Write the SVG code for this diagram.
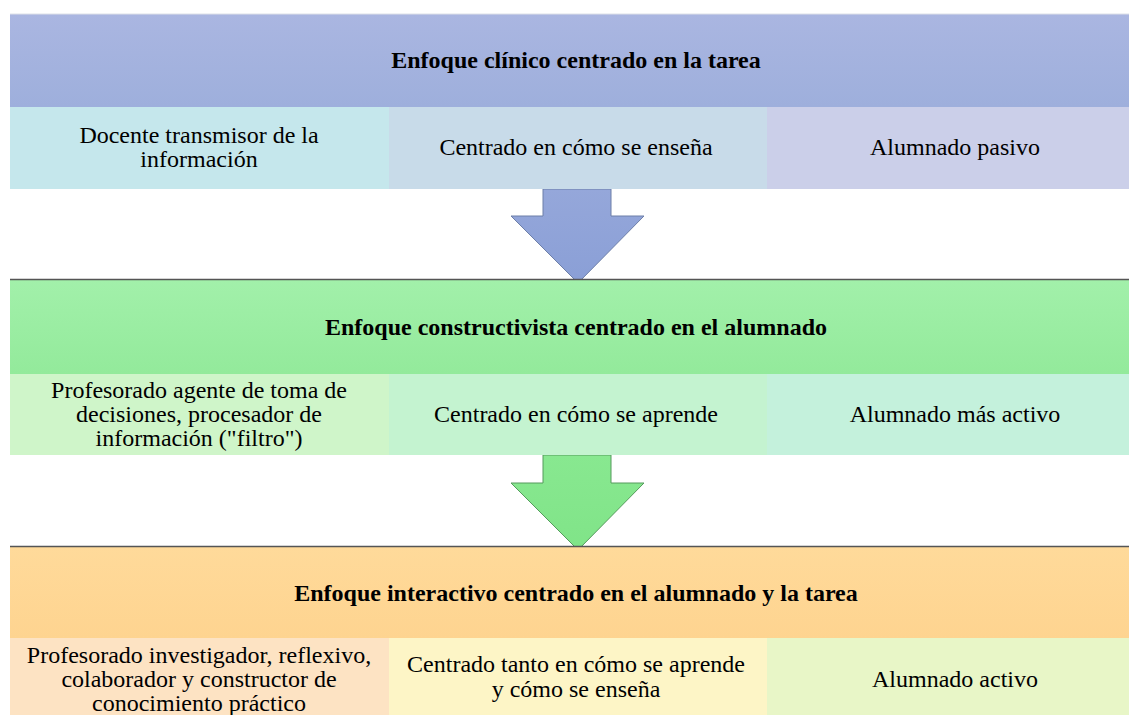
<svg xmlns="http://www.w3.org/2000/svg" width="1129" height="715" viewBox="0 0 1129 715">
<defs>
<linearGradient id="gBlue" x1="0" y1="0" x2="0" y2="1"><stop offset="0" stop-color="#aab6e1"/><stop offset="1" stop-color="#9eafdc"/></linearGradient>
<linearGradient id="gGreen" x1="0" y1="0" x2="0" y2="1"><stop offset="0" stop-color="#a2f0aa"/><stop offset="1" stop-color="#93ea9b"/></linearGradient>
<linearGradient id="gOrange" x1="0" y1="0" x2="0" y2="1"><stop offset="0" stop-color="#ffda9a"/><stop offset="1" stop-color="#fed490"/></linearGradient>
<linearGradient id="aBlue" x1="0" y1="0" x2="0" y2="1"><stop offset="0" stop-color="#95a7da"/><stop offset="1" stop-color="#8a9fd6"/></linearGradient>
<linearGradient id="aGreen" x1="0" y1="0" x2="0" y2="1"><stop offset="0" stop-color="#88e890"/><stop offset="1" stop-color="#80e488"/></linearGradient>
</defs>
<style>
text{font-family:"Liberation Serif","Times New Roman",serif;fill:#000;text-anchor:middle}
.h{font-size:24px;font-weight:bold}
.c{font-size:24px}
.sep{stroke:#555;stroke-width:1.5}
</style>
<rect x="0" y="0" width="1129" height="715" fill="#ffffff"/>

<g id="connectors">
<path d="M543,189 L611,189 L611,216 L644,216 L578,283 L511,216 L543,216 Z" fill="url(#aBlue)" stroke="#6d7fa8" stroke-width="1"/>
<path d="M543,455 L611,455 L611,483 L644,483 L578,550 L511,483 L543,483 Z" fill="url(#aGreen)" stroke="#559a5c" stroke-width="1"/>
</g>

<g id="header1">
<rect x="10" y="14" width="1136" height="93" fill="url(#gBlue)"/>
<line x1="10" y1="14" x2="1129" y2="14" stroke="#dde0e8" stroke-width="1"/>
<text class="h" x="576" y="68">Enfoque clínico centrado en la tarea</text>
</g>
<g id="cell1a">
<rect x="10" y="107" width="379" height="82" fill="#c5e7ec"/>
<text class="c" x="199" y="143">Docente transmisor de la</text>
<text class="c" x="199" y="167">información</text>
</g>
<g id="cell1b">
<rect x="389" y="107" width="378" height="82" fill="#c8dbe9"/>
<text class="c" x="576" y="155">Centrado en cómo se enseña</text>
</g>
<g id="cell1c">
<rect x="767" y="107" width="379" height="82" fill="#cbcfe9"/>
<text class="c" x="955" y="155">Alumnado pasivo</text>
</g>

<g id="header2">
<rect x="10" y="280" width="1136" height="94" fill="url(#gGreen)"/>
<line class="sep" x1="10" y1="279.5" x2="1129" y2="279.5"/>
<text class="h" x="576" y="335">Enfoque constructivista centrado en el alumnado</text>
</g>
<g id="cell2a">
<rect x="10" y="374" width="379" height="81" fill="#cff5c9"/>
<text class="c" x="199" y="398">Profesorado agente de toma de</text>
<text class="c" x="199" y="422">decisiones, procesador de</text>
<text class="c" x="199" y="446">información ("filtro")</text>
</g>
<g id="cell2b">
<rect x="389" y="374" width="378" height="81" fill="#c4f3d0"/>
<text class="c" x="576" y="422">Centrado en cómo se aprende</text>
</g>
<g id="cell2c">
<rect x="767" y="374" width="379" height="81" fill="#c4f1dc"/>
<text class="c" x="955" y="422">Alumnado más activo</text>
</g>

<g id="header3">
<rect x="10" y="547" width="1136" height="91" fill="url(#gOrange)"/>
<line class="sep" x1="10" y1="546.5" x2="1129" y2="546.5"/>
<text class="h" x="576" y="601">Enfoque interactivo centrado en el alumnado y la tarea</text>
</g>
<g id="cell3a">
<rect x="10" y="638" width="379" height="77" fill="#fde3c3"/>
<text class="c" x="199" y="663">Profesorado investigador, reflexivo,</text>
<text class="c" x="199" y="687">colaborador y constructor de</text>
<text class="c" x="199" y="711">conocimiento práctico</text>
</g>
<g id="cell3b">
<rect x="389" y="638" width="378" height="77" fill="#fdf5c6"/>
<text class="c" x="576" y="672">Centrado tanto en cómo se aprende</text>
<text class="c" x="576" y="697">y cómo se enseña</text>
</g>
<g id="cell3c">
<rect x="767" y="638" width="379" height="77" fill="#e8f6c7"/>
<text class="c" x="955" y="687">Alumnado activo</text>
</g>
</svg>
